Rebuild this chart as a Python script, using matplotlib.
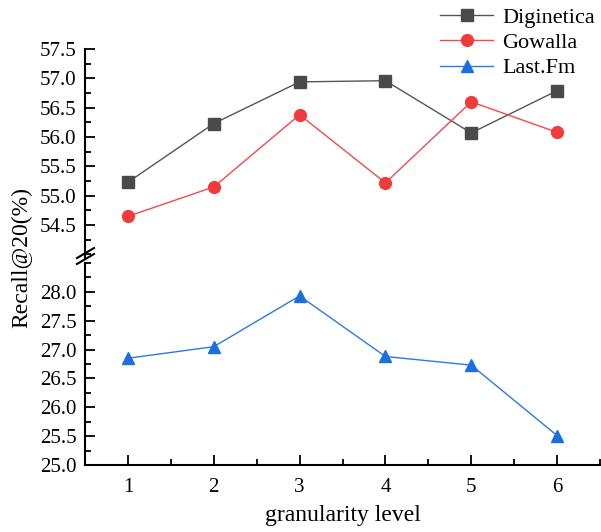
import matplotlib
matplotlib.use("Agg")
import matplotlib.pyplot as plt
from matplotlib.ticker import MultipleLocator, FormatStrFormatter
from matplotlib.lines import Line2D

plt.rcParams['font.family'] = ['Liberation Serif', 'DejaVu Serif']

levels = [1, 2, 3, 4, 5, 6]
diginetica = [55.23, 56.23, 56.94, 56.96, 56.07, 56.79]
gowalla = [54.65, 55.15, 56.38, 55.22, 56.60, 56.08]
lastfm = [26.85, 27.05, 27.93, 26.88, 26.73, 25.51]
xticks = [1, 2, 3, 4, 5, 6]

fig = plt.figure(figsize=(6.01, 5.32), dpi=100)
L, R = 85/601, 600/601
ax_top = fig.add_axes([L, 1-258/532, R-L, (258-49)/532])
ax_bot = fig.add_axes([L, 1-465/532, R-L, (465-263)/532])

c_dig, c_gow, c_lfm = '#4a4a4a', '#ef3b3b', '#1c6fdc'
lc_dig, lc_gow, lc_lfm = '#555555', '#f04a4a', '#2a7ae0'

ax_top.plot(levels, diginetica, color=lc_dig, lw=1.0, marker='s', ms=8,
            mfc=c_dig, mec=c_dig, label='Diginetica')
ax_top.plot(levels, gowalla, color=lc_gow, lw=1.0, marker='o', ms=8.5,
            mfc=c_gow, mec=c_gow, label='Gowalla')
ax_bot.plot(levels, lastfm, color=lc_lfm, lw=1.0, marker='^', ms=9,
            mfc=c_lfm, mec=c_lfm, label='Last.Fm')

ax_top.set_ylim(53.94, 57.5)
ax_bot.set_ylim(25.0, 28.5)
for ax in (ax_top, ax_bot):
    ax.set_xlim(0.5, 6.5)
    ax.spines['top'].set_visible(False)
    ax.spines['right'].set_visible(False)
    ax.spines['left'].set_linewidth(1.5)
    ax.spines['bottom'].set_linewidth(1.5)
    ax.yaxis.set_major_locator(MultipleLocator(0.5))
    ax.yaxis.set_minor_locator(MultipleLocator(0.25))
    ax.yaxis.set_major_formatter(FormatStrFormatter('%.1f'))
    ax.tick_params(axis='both', which='major', direction='in', length=7, width=1.3,
                   labelsize=15)
    ax.tick_params(axis='both', which='minor', direction='in', length=4, width=1.3)
    ax.tick_params(axis='y', which='major', pad=6)
    ax.patch.set_alpha(0)

ax_top.spines['bottom'].set_visible(False)
ax_top.tick_params(axis='x', which='both', bottom=False, labelbottom=False)
ax_top.set_yticks([54.5, 55.0, 55.5, 56.0, 56.5, 57.0, 57.5])

ax_bot.set_xticks(xticks)
ax_bot.set_xticklabels([str(v) for v in xticks])
ax_bot.xaxis.set_minor_locator(MultipleLocator(0.5))
ax_bot.set_yticks([25.0, 25.5, 26.0, 26.5, 27.0, 27.5, 28.0])
ax_bot.tick_params(axis='x', which='major', pad=9)
ax_bot.set_xlabel('granularity level', fontsize=17, labelpad=6)

fig.text(22/601, 1-258/532, 'Recall@20(%)', rotation=90, fontsize=17,
         ha='center', va='center')

# break marks on the left spine
for dy in (0, 6):
    fig.add_artist(Line2D([77/601, 94/601], [1-(264-dy)/532, 1-(254-dy)/532],
                          color='black', lw=1.5, transform=fig.transFigure))

handles = [ax_top.get_lines()[0], ax_top.get_lines()[1], ax_bot.get_lines()[0]]
fig.legend(handles, [h.get_label() for h in handles], loc='upper right',
           bbox_to_anchor=(1.012, 1.012), frameon=False, fontsize=16,
           handlelength=2.4, handletextpad=0.4, labelspacing=0.22, borderaxespad=0.2)

fig.savefig('out.png', dpi=100)
